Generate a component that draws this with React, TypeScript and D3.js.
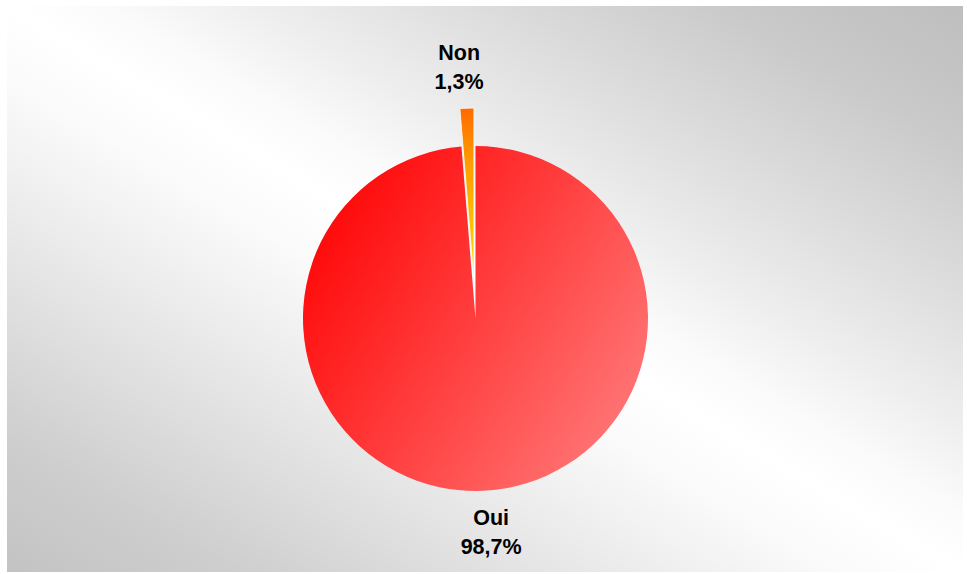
import React from "react";
import * as d3 from "d3";

const categories = ["Oui", "Non"];
const values = [98.7, 1.3];
const labels = ["98,7%", "1,3%"];

const W = 967;
const H = 574;
const cx = 475.5;
const cy = 318.5;
const R = 172.5;
const explode = [0, 38];
const labelR = [212, 254];

export default function App() {
  const pie = d3
    .pie<number>()
    .sort(null)
    .value((d) => d)
    .startAngle(0)
    .endAngle(2 * Math.PI);
  const arcs = pie(values);
  const arc = d3.arc<d3.PieArcDatum<number>>().innerRadius(0).outerRadius(R);

  return (
    <svg
      width={W}
      height={H}
      style={{ position: "absolute", left: 0, top: 0 }}
      fontFamily="'Liberation Sans', Arial, sans-serif"
    >
      <defs>
        <linearGradient id="bg" x1="1" y1="0" x2="0" y2="1">
          <stop offset="0" stopColor="#bebebe" />
          <stop offset="0.12" stopColor="#c9c9c9" />
          <stop offset="0.25" stopColor="#dcdcdc" />
          <stop offset="0.37" stopColor="#eeeeee" />
          <stop offset="0.45" stopColor="#fbfbfb" />
          <stop offset="0.5" stopColor="#ffffff" />
          <stop offset="0.56" stopColor="#fbfbfb" />
          <stop offset="0.65" stopColor="#efefef" />
          <stop offset="0.77" stopColor="#dedede" />
          <stop offset="0.88" stopColor="#cecece" />
          <stop offset="1" stopColor="#c3c3c3" />
        </linearGradient>
        <linearGradient id="g0" x1="0" y1="0.25" x2="0.95" y2="0.85">
          <stop offset="0" stopColor="#ff0606" />
          <stop offset="1" stopColor="#ff7878" />
        </linearGradient>
        <linearGradient id="g1" x1="0" y1="0" x2="0" y2="1">
          <stop offset="0" stopColor="#ff6a00" />
          <stop offset="0.3" stopColor="#ff9a00" />
          <stop offset="1" stopColor="#ffe000" />
        </linearGradient>
      </defs>
      <rect x={7} y={6} width={956} height={566} fill="url(#bg)" />
      {arcs.map((a, i) => {
        const mid = (a.startAngle + a.endAngle) / 2;
        const dx = Math.sin(mid) * explode[i];
        const dy = -Math.cos(mid) * explode[i];
        return (
          <path
            key={categories[i]}
            d={arc(a) || ""}
            transform={`translate(${cx + dx},${cy + dy})`}
            fill={`url(#g${i})`}
            stroke={i === 1 ? "#ffffff" : "none"}
            strokeWidth={i === 1 ? 0.8 : 0}
          />
        );
      })}
      {arcs.map((a, i) => {
        const mid = (a.startAngle + a.endAngle) / 2;
        const x = cx + Math.sin(mid) * labelR[i] + (i === 0 ? 7 : -6);
        const y = cy - Math.cos(mid) * labelR[i];
        return (
          <text
            key={"l" + categories[i]}
            x={x}
            y={y}
            textAnchor="middle"
            fontSize={21.5}
            fontWeight="bold"
            fill="#000"
          >
            <tspan x={x} dy={-5}>
              {categories[i]}
            </tspan>
            <tspan x={x} dy={29}>
              {labels[i]}
            </tspan>
          </text>
        );
      })}
    </svg>
  );
}
